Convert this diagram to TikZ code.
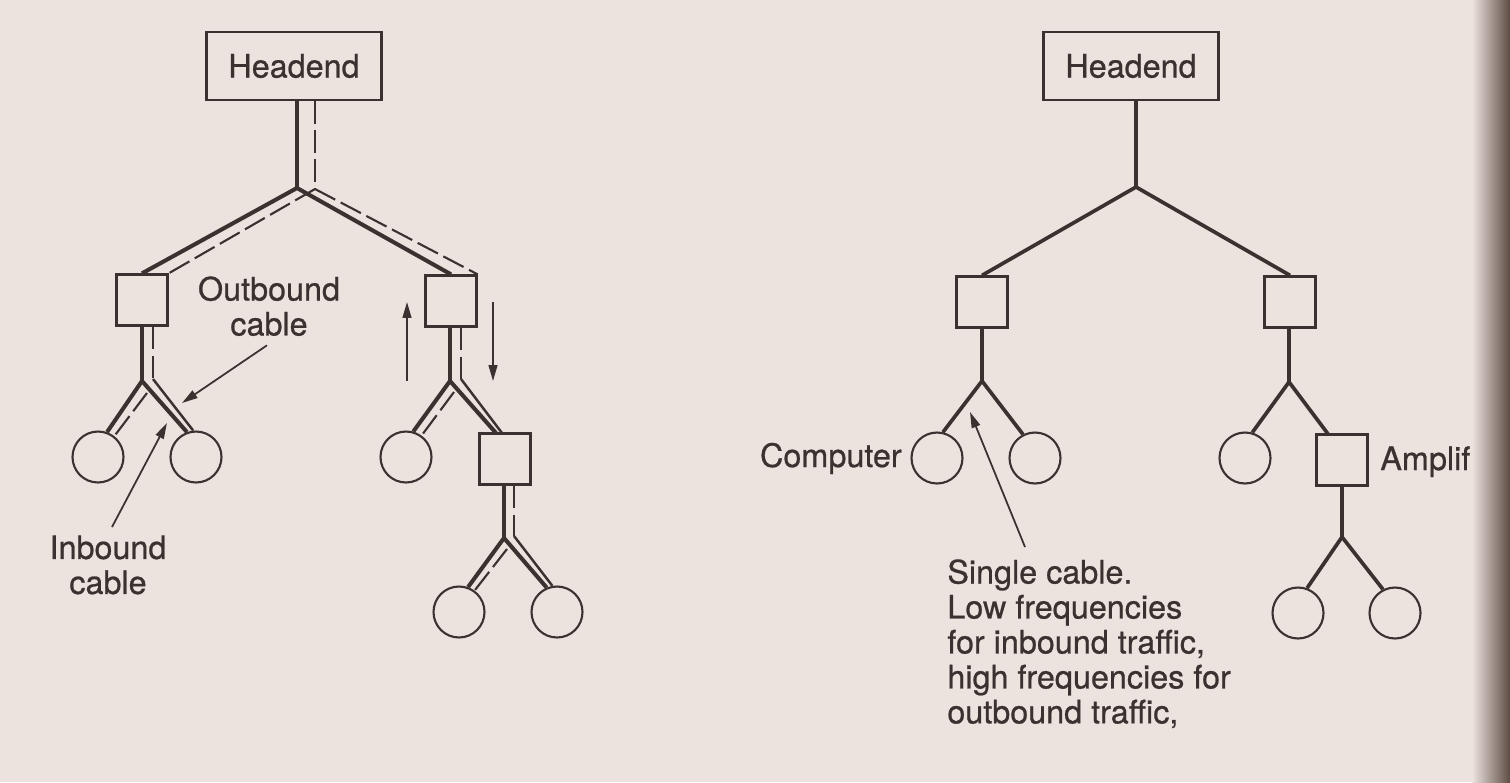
\documentclass[tikz,border=0pt]{standalone}
\usepackage{fontspec}
\setmainfont{TeX Gyre Heros}
\newfontfamily\labelfont{TeX Gyre Heros}[FakeBold=0.7]
\usepackage{xcolor}
\usepackage{tikz}
\usetikzlibrary{calc,arrows.meta}
\definecolor{paper}{HTML}{ECE2DE}
\definecolor{ink}{HTML}{3A3230}
\definecolor{spine}{HTML}{5E4C44}
\newcommand{\Fork}[3]{%
  \draw[cable] (#2) -- (#1) -- (#3);
}

\begin{document}
\begin{tikzpicture}[x=0.02cm,y=-0.02cm,
  cable/.style={color=ink,line width=2.1pt,line join=miter},
  wire/.style={color=ink,line width=2.3pt},
  back/.style={color=ink,line width=1.2pt,dash pattern=on 13pt off 3.5pt},
  twin/.style={color=ink,line width=1.4pt},
  box/.style={draw=ink,line width=1.3pt,minimum size=1.02cm,inner sep=0pt},
  pc/.style={draw=ink,line width=1.2pt,circle,minimum size=1.02cm,inner sep=0pt},
  head/.style={draw=ink,line width=1.3pt,minimum width=3.5cm,minimum height=1.36cm},
  lbl/.style={color=ink,inner sep=0pt,font=\labelfont\fontsize{18.4pt}{19.9pt}\selectfont},
  pointer/.style={color=ink,line width=1pt,-{Triangle[length=9pt,width=5pt]}}]
  \useasboundingbox (0,0) rectangle (1510,782);
  \fill[paper] (0,0) rectangle (1510,782);

  % left: outbound and inbound cables
  \node[head,lbl] (HL) at (294,66) {Headend};
  \coordinate (J0) at (297,188);
  \coordinate (D0) at (315,189);
  \node[box] (B1) at (142,300) {};
  \node[box] (B2) at (451,301) {};
  \draw[wire] (J0 |- HL.south) -- (J0);
  \draw[back] (D0 |- HL.south) -- (D0);
  \draw[wire] (J0) -- (B1.north);
  \draw[wire] (J0) -- (B2.north);
  \draw[back] (D0) -- (B1.north east);
  \draw[back] (D0) -- (B2.north east);

  \coordinate (J1) at (142,381);
  \coordinate (D1) at (153,379);
  \coordinate (E1) at (147,393);
  \node[pc] (C1) at (98,457) {};
  \node[pc] (C2) at (196,457) {};
  \draw[wire] (B1.south) -- (J1);
  \draw[back] (D1 |- B1.south) -- (D1);
  \draw[wire] (J1) -- (C1.70);
  \draw[back] (E1) -- (C1.52);
  \draw[wire] (J1) -- (C2.110);
  \draw[twin] (D1) -- (C2.96);

  \coordinate (J2) at (450,381);
  \coordinate (D2) at (461,379);
  \coordinate (E2) at (454,392);
  \coordinate (T1) at (496,433);
  \coordinate (U1) at (502,433);
  \node[pc] (C3) at (406,457) {};
  \node[box] (A1) at (505,459) {};
  \draw[wire] (J2 |- B2.south) -- (J2);
  \draw[back] (D2 |- B2.south) -- (D2);
  \draw[wire] (J2) -- (C3.74);
  \draw[back] (E2) -- (C3.54);
  \draw[wire] (J2) -- (T1);
  \draw[twin] (D2) -- (U1);

  \coordinate (J3) at (504,538);
  \coordinate (D3) at (514,536);
  \coordinate (E3) at (507,549);
  \node[pc] (C4) at (459,612) {};
  \node[pc] (C5) at (557,612) {};
  \draw[wire] (J3 |- A1.south) -- (J3);
  \draw[back] (D3 |- A1.south) -- (D3);
  \draw[wire] (J3) -- (C4.70);
  \draw[back] (E3) -- (C4.54);
  \draw[wire] (J3) -- (C5.113);
  \draw[twin] (D3) -- (C5.100);

  \coordinate (UpA) at (407,381);
  \coordinate (UpB) at (407,302);
  \coordinate (DnA) at (493,302);
  \coordinate (DnB) at (493,381);
  \draw[pointer] (UpA) -- (UpB);
  \draw[pointer] (DnA) -- (DnB);

  \node[lbl,align=center,anchor=north] (OUT) at (269,276) {Outbound\\cable};
  \node[lbl,align=center,anchor=north] (IN) at (108,535) {Inbound\\cable};
  \coordinate (P1) at (182,403);
  \coordinate (P2) at (167,423);
  \draw[pointer] ($(OUT.south)+(-2,9)$) -- (P1);
  \draw[pointer] ($(IN.north)+(4,-8)$) -- (P2);

  % right: single cable
  \node[head,lbl] (HR) at (1131,66) {Headend};
  \coordinate (K0) at (1136,187);
  \node[box] (B3) at (982,302) {};
  \node[box] (B4) at (1290,302) {};
  \draw[cable] (K0 |- HR.south) -- (K0);
  \Fork{K0}{B3.north}{B4.north}

  \coordinate (K1) at (982,381);
  \node[pc] (C6) at (937,458) {};
  \node[pc] (C7) at (1035,458) {};
  \draw[cable] (B3.south) -- (K1);
  \Fork{K1}{C6.77}{C7.117}

  \coordinate (K2) at (1289,382);
  \coordinate (T2) at (1328,434);
  \node[pc] (C8) at (1245,458) {};
  \node[box] (A2) at (1342,460) {};
  \draw[cable] (K2 |- B4.south) -- (K2);
  \Fork{K2}{C8.74}{T2}

  \coordinate (K3) at (1342,537);
  \node[pc] (C9) at (1298,613) {};
  \node[pc] (C10) at (1395,613) {};
  \draw[cable] (A2.south) -- (K3);
  \Fork{K3}{C9.70}{C10.117}

  \node[lbl,anchor=base east] (PC) at (902,467) {Computer};
  \node[lbl,anchor=base west] (AMP) at (1380,470) {Amplifier};
  \node[lbl,align=left,anchor=north west] (NOTE) at (947,559)
    {Single cable.\\Low frequencies\\for inbound traffic,\\high frequencies for\\outbound traffic,};
  \coordinate (P3) at (970,412);
  \draw[pointer] ($(NOTE.north west)+(78,-12)$) -- (P3);

  \shade[left color=paper,right color=spine] (1472,0) rectangle (1510,782);
\end{tikzpicture}
\end{document}
